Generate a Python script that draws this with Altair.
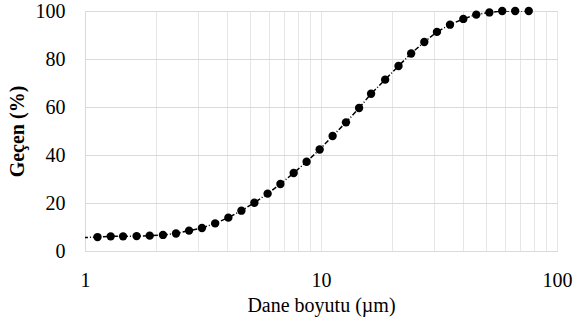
import altair as alt
import pandas as pd

size_um = [1.13, 1.285, 1.45, 1.655, 1.88, 2.14, 2.43, 2.76, 3.13, 3.56, 4.05, 4.6, 5.22,
           5.94, 6.73, 7.66, 8.69, 9.87, 11.2, 12.76, 14.5, 16.3, 18.7, 21.3, 24.1, 27.4,
           31.0, 35.2, 40.1, 45.5, 51.7, 58.6, 66.5, 75.9]
passing = [5.8, 6.1, 6.1, 6.2, 6.4, 6.7, 7.3, 8.5, 9.6, 11.5, 13.9, 16.8, 20.1,
           23.9, 27.9, 32.5, 37.2, 42.3, 47.9, 53.6, 59.6, 65.5, 71.4, 77.1, 82.3, 87.1,
           91.3, 94.3, 96.7, 98.5, 99.4, 100.0, 100.0, 100.0]
# the line continues to the left axis
line_start_x = [0.98]
line_start_y = [5.6]

x_ticks = [1, 2, 3, 4, 5, 6, 7, 8, 9, 10, 20, 30, 40, 50, 60, 70, 80, 90, 100]
y_ticks = [0, 20, 40, 60, 80, 100]

df = pd.DataFrame({"x": size_um, "y": passing})
df_line = pd.DataFrame({"x": line_start_x + size_um, "y": line_start_y + passing})

FONT = "Liberation Serif"

xenc = alt.X("x:Q", scale=alt.Scale(type="log", domain=[1, 100]),
             axis=alt.Axis(values=x_ticks, title="Dane boyutu (µm)",
                           labelExpr="(datum.value==1||datum.value==10||datum.value==100) ? datum.label : ''",
                           format="d", labelPadding=19, titlePadding=5, titleFontWeight="normal",
                           gridColor="#e6e6e6", labelFlush=False))
yenc = alt.Y("y:Q", scale=alt.Scale(domain=[0, 100]),
             axis=alt.Axis(values=y_ticks, title="Geçen (%)", titleFontWeight="bold",
                           labelPadding=20, titlePadding=8, gridColor="#d9d9d9"))

line = alt.Chart(df_line).mark_line(color="black", strokeWidth=1.5, strokeDash=[5, 2, 1, 2],
                                    clip=True).encode(x=xenc, y=yenc)
pts = alt.Chart(df).mark_circle(color="black", opacity=1, size=70).encode(x=xenc, y=yenc)

chart = (line + pts).properties(
    width=472, height=240,
    autosize=alt.AutoSizeParams(type="none"),
    padding={"left": 85, "top": 11, "right": 19, "bottom": 78},
).configure_view(stroke="#d9d9d9").configure_axis(
    labelFont=FONT, labelFontSize=20, labelColor="black",
    titleFont=FONT, titleFontSize=20, titleColor="black",
    tickSize=0, domainColor="#d9d9d9",
)

chart.save("out.html", embed_options={"renderer": "svg", "actions": False})
